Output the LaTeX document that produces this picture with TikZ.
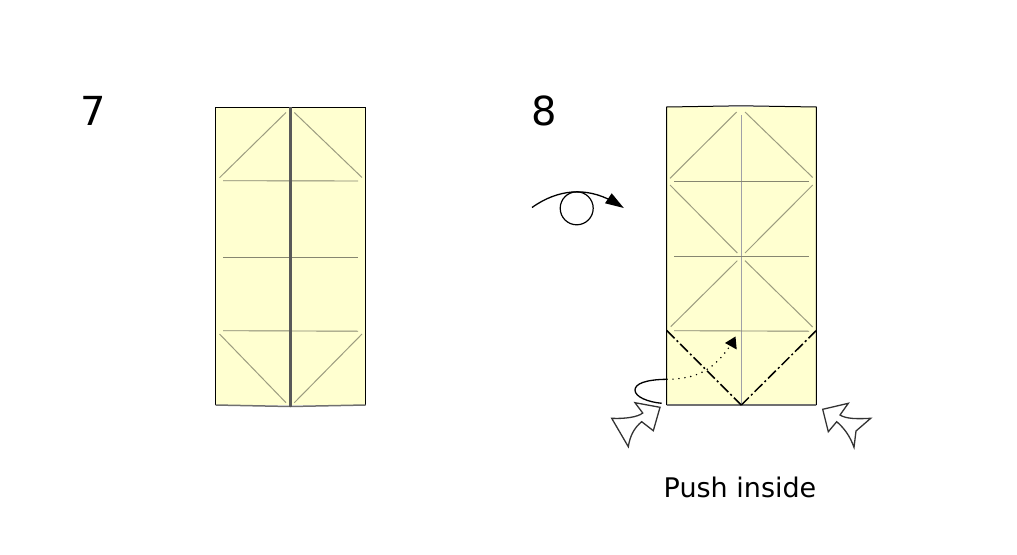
\documentclass[tikz,border=0pt]{standalone}
\usepackage{fontspec}
\setmainfont{DejaVu Sans}
\definecolor{paper}{HTML}{FFFFD0}
\definecolor{crease}{HTML}{9C9C80}
\definecolor{creaseh}{HTML}{868670}
\definecolor{creasev}{HTML}{A0A0A8}
\definecolor{edgegray}{HTML}{707070}
\tikzset{
  sheet/.style={draw=black,line width=1pt},
  creaseline/.style={draw=crease,line width=1pt},
  hcrease/.style={draw=creaseh,line width=0.9pt},
  vcrease/.style={draw=creasev,line width=1.1pt},
  bottomedge/.style={draw=edgegray,line width=1.5pt},
  mountain/.style={draw=black,line width=1.5pt,dash pattern=on 11pt off 3pt on 2pt off 3pt},
  curveline/.style={draw=black,line width=1.3pt},
  tiparrow/.style={fill=black,draw=none},
  pusharrow/.style={draw=black!80,fill=white,line width=1.3pt,line join=miter},
  steplabel/.style={font=\fontsize{40}{40}\selectfont,inner sep=0pt,anchor=base},
  caption/.style={font=\fontsize{27}{27}\selectfont,inner sep=0pt,anchor=base}
}
\begin{document}
\begin{tikzpicture}[x=1pt,y=-1pt]
\useasboundingbox (0,0) rectangle (1017,554);
% Step 7
\node[steplabel] (seven) at (93.2,125) {7};
\fill[paper] (215.7,107) rectangle (365.7,405);
\foreach \a/\b/\c/\d in {286/112.5/219.5/177.7, 294.3/112.5/362/177.5, 219.5/334/286/402.7, 362/334/294.3/402.7}
  \draw[creaseline] (\a,\b) -- (\c,\d);
\draw[hcrease] (223,180.7) -- (358,181);
\draw[hcrease] (223,257) -- (358,257);
\draw[hcrease] (223,330.7) -- (358,331.2);
\draw[sheet] (215.7,405) -- (215.7,107.4) -- (365.7,107.4) -- (365.7,405);
\draw[bottomedge] (215.7,405) -- (290.3,406.5) -- (365.7,405);
\draw[black!65,line width=2.6pt] (290.3,107) -- (290.3,406.5);
% Step 8
\node[steplabel] (eight) at (544,125) {8};
\fill[paper] (666.7,107) rectangle (816.3,405);
\draw[vcrease] (741.3,115) -- (741.3,405);
\foreach \a/\b/\c/\d in {736.7/112/670/178.3, 745/112/812.7/177.5, 670/185/737.3/253, 812.7/185/745/253, 737.3/260.7/670.7/326.7, 745/260.7/812.7/327}
  \draw[creaseline] (\a,\b) -- (\c,\d);
\draw[hcrease] (674,181) -- (809,181);
\draw[hcrease] (674,256.5) -- (809,256.5);
\draw[hcrease] (674,330.7) -- (809,331.2);
\draw[sheet] (666.7,405) -- (666.7,107) -- (741,105.8) -- (816.3,107) -- (816.3,405);
\draw[bottomedge] (666.7,405) -- (816.3,405);
\draw[mountain] (666.7,330.5) -- (741.3,405);
\draw[mountain] (816.3,330.5) -- (741.3,405);
% Turn-over symbol
\node[circle,draw=black,line width=1.2pt,minimum size=33pt,inner sep=0pt] (eye) at (576.7,208.3) {};
\coordinate (turnstart) at (532,207.5);
\coordinate (turnend) at (612,201);
\draw[curveline] (turnstart) .. controls (558,189) and (586,187) .. (turnend);
\fill[tiparrow] (623.8,208) -- (611.7,193.3) -- (605,203.3) -- cycle;
% Fold-in arrow
\coordinate (foldedge) at (667,379.3);
\coordinate (foldend) at (661.7,403.3);
\coordinate (dotend) at (730,346);
\draw[curveline] (foldedge) .. controls (645,379.5) and (635,384) .. (635,390) .. controls (635,397) and (648,402) .. (foldend);
\draw[black,line width=1.7pt,line cap=round,dash pattern=on 0pt off 6pt] (foldedge) .. controls (698,379) and (714,369) .. (dotend);
\fill[tiparrow] (735.5,336.5) -- (725,343) -- (736.7,349.5) -- cycle;
% Push arrows
\draw[pusharrow] (660,407.3) -- (635,402.7) -- (642.7,413) .. controls (638,417) and (625,419) .. (611.7,418.3) -- (628.3,446.7) .. controls (630,436) and (634,428) .. (641.7,421.7) -- (653.3,430.7) -- cycle;
\draw[pusharrow] (822.7,409.3) -- (848.3,403.3) -- (840,415) .. controls (846,419) and (858,419) .. (870.7,418.3) -- (856,431) -- (854,447.3) .. controls (850,436) and (844,428) .. (836.7,421.7) -- (828.3,431.7) -- cycle;
% Caption
\node[caption] (pushlabel) at (740,497) {Push inside};
\end{tikzpicture}
\end{document}
